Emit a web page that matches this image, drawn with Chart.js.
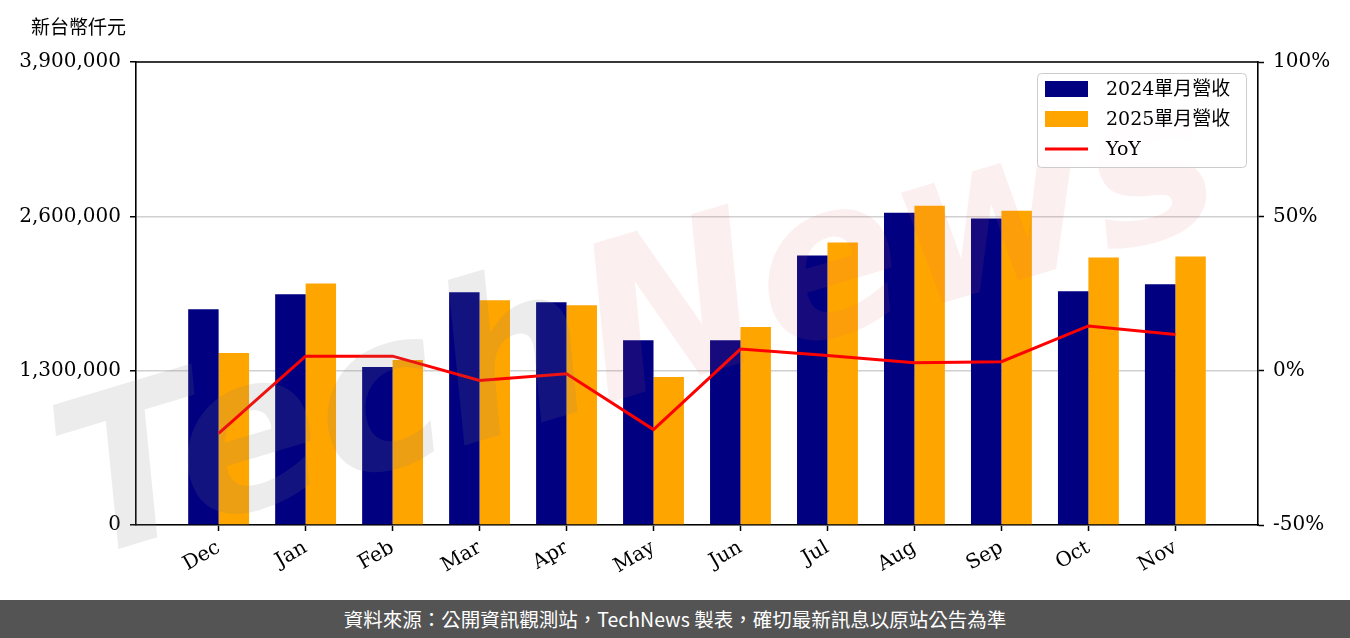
<!DOCTYPE html>
<html lang="zh-TW">
<head>
<meta charset="utf-8">
<script src="https://cdn.jsdelivr.net/npm/chart.js@4"></script>
<style>
  html, body { margin: 0; padding: 0; background: #fff; }
  #wrap { width: 1350px; height: 600px; position: relative; }
  #footer {
    width: 1350px; height: 38px; background: #545454; color: #fff;
    font-family: "Noto Sans CJK TC", "Noto Sans", sans-serif; font-size: 19.5px;
    text-align: center; line-height: 38px;
  }
</style>
</head>
<body>
<div id="wrap"><canvas id="chart" width="1350" height="600"></canvas></div>
<div id="footer">資料來源：公開資訊觀測站，TechNews 製表，確切最新訊息以原站公告為準</div>
<script>
const months = ['Dec', 'Jan', 'Feb', 'Mar', 'Apr', 'May', 'Jun', 'Jul', 'Aug', 'Sep', 'Oct', 'Nov'];
const rev2024 = [1817000, 1943000, 1331000, 1960000, 1876000, 1557000, 1557000, 2270000, 2631000, 2581000, 1968000, 2027000];
const rev2025 = [1448000, 2035000, 1390000, 1893000, 1851000, 1247000, 1667000, 2379000, 2690000, 2648000, 2254000, 2262000];
const yoy = [-20.3, 4.7, 4.7, -3.2, -1.0, -19.1, 7.0, 4.9, 2.6, 2.9, 14.5, 11.7];
const leftTicks = [0, 1300000, 2600000, 3900000];
const rightTicks = [-50, 0, 50, 100];

const FONT = '"DejaVu Serif", "Noto Sans CJK TC", serif';

const toPoints = arr => arr.map((v, i) => ({ x: i, y: v }));

// frame top line, y-axis caption, legend box and watermark
const extras = {
    id: 'extras',
    afterDatasetsDraw(chart) {
        const { ctx } = chart;
        ctx.save();
        ctx.translate(640, 335);
        ctx.rotate(-0.29);
        ctx.font = 'italic bold 215px "DejaVu Sans", sans-serif';
        ctx.textBaseline = 'middle';
        const w1 = ctx.measureText('Tech').width;
        const w2 = ctx.measureText('News').width;
        const start = -(w1 + w2) / 2;
        ctx.textAlign = 'left';
        ctx.fillStyle = 'rgba(130,130,130,0.15)';
        ctx.fillText('Tech', start, 0);
        ctx.fillStyle = 'rgba(215,100,100,0.1)';
        ctx.fillText('News', start + w1, 0);
        ctx.restore();
    },
    afterDraw(chart) {
        const { ctx, chartArea: a } = chart;
        ctx.save();
        ctx.strokeStyle = '#000';
        ctx.lineWidth = 1.6;
        ctx.beginPath();
        ctx.moveTo(a.left - 0.8, a.top);
        ctx.lineTo(a.right + 0.8, a.top);
        ctx.stroke();

        ctx.fillStyle = '#000';
        ctx.font = '19px "Noto Sans CJK TC", sans-serif';
        ctx.textBaseline = 'middle';
        ctx.textAlign = 'left';
        ctx.fillText('新台幣仟元', 31, 27);

        // legend
        const bx = a.right - 221, by = a.top + 11, bw = 209, bh = 94;
        ctx.fillStyle = 'rgba(255,255,255,0.85)';
        ctx.strokeStyle = '#cccccc';
        ctx.lineWidth = 1;
        ctx.beginPath();
        ctx.roundRect(bx + 0.5, by + 0.5, bw, bh, 4);
        ctx.fill();
        ctx.stroke();
        const ds = chart.data.datasets;
        ctx.font = '19px ' + FONT;
        ds.forEach((d, i) => {
            const cy = by + 16 + i * 30;
            if (d.type === 'line') {
                ctx.strokeStyle = d.borderColor;
                ctx.lineWidth = 3;
                ctx.beginPath();
                ctx.moveTo(bx + 8, cy);
                ctx.lineTo(bx + 51, cy);
                ctx.stroke();
            } else {
                ctx.fillStyle = d.backgroundColor;
                ctx.fillRect(bx + 8, cy - 8, 43, 16);
            }
            ctx.fillStyle = '#000';
            ctx.fillText(d.label, bx + 69, cy + 1);
        });
        ctx.restore();
    }
};

const ctx = document.getElementById('chart').getContext('2d');
new Chart(ctx, {
    data: {
        datasets: [
            {
                type: 'bar',
                label: '2024單月營收',
                data: toPoints(rev2024),
                backgroundColor: '#000080',
                yAxisID: 'y',
                categoryPercentage: 0.7,
                barPercentage: 1.0,
                order: 2
            },
            {
                type: 'bar',
                label: '2025單月營收',
                data: toPoints(rev2025),
                backgroundColor: '#FFA500',
                yAxisID: 'y',
                categoryPercentage: 0.7,
                barPercentage: 1.0,
                order: 2
            },
            {
                type: 'line',
                label: 'YoY',
                data: toPoints(yoy),
                borderColor: '#FF0000',
                backgroundColor: '#FF0000',
                borderWidth: 3,
                pointRadius: 0,
                tension: 0,
                yAxisID: 'y1',
                order: 1
            }
        ]
    },
    plugins: [extras],
    options: {
        responsive: false,
        animation: false,
        layout: { padding: { top: 62, left: 0, right: 0, bottom: 0 } },
        plugins: {
            legend: { display: false },
            tooltip: { enabled: false }
        },
        scales: {
            x: {
                type: 'linear',
                min: -0.95,
                max: 11.95,
                offset: false,
                grid: { offset: false, drawOnChartArea: false, drawTicks: true, tickLength: 6, tickColor: '#000', tickWidth: 1.5 },
                border: { color: '#000', width: 1.6 },
                afterBuildTicks: scale => { scale.ticks = months.map((m, i) => ({ value: i })); },
                afterFit: scale => { scale.height = 75; },
                ticks: {
                    color: '#000',
                    font: { family: FONT, size: 20 },
                    minRotation: 30,
                    maxRotation: 30,
                    padding: 5,
                    autoSkip: false,
                    callback: v => months[v]
                }
            },
            y: {
                position: 'left',
                min: 0,
                max: 3900000,
                grid: { color: '#d0d0d0', lineWidth: 1.5, tickColor: '#000', tickLength: 6, tickWidth: 1.5 },
                border: { color: '#000', width: 1.6 },
                afterBuildTicks: scale => { scale.ticks = leftTicks.map(v => ({ value: v })); },
                afterFit: scale => { scale.width = 136; },
                ticks: {
                    color: '#000',
                    font: { family: FONT, size: 20 },
                    padding: 9,
                    callback: v => v.toLocaleString('en-US')
                }
            },
            y1: {
                position: 'right',
                min: -50,
                max: 100,
                grid: { drawOnChartArea: false, tickColor: '#000', tickLength: 6, tickWidth: 1.5 },
                border: { color: '#000', width: 1.6 },
                afterBuildTicks: scale => { scale.ticks = rightTicks.map(v => ({ value: v })); },
                afterFit: scale => { scale.width = 92; },
                ticks: {
                    color: '#000',
                    font: { family: FONT, size: 20 },
                    padding: 9,
                    callback: v => v + '%'
                }
            }
        }
    }
});
</script>
</body>
</html>
